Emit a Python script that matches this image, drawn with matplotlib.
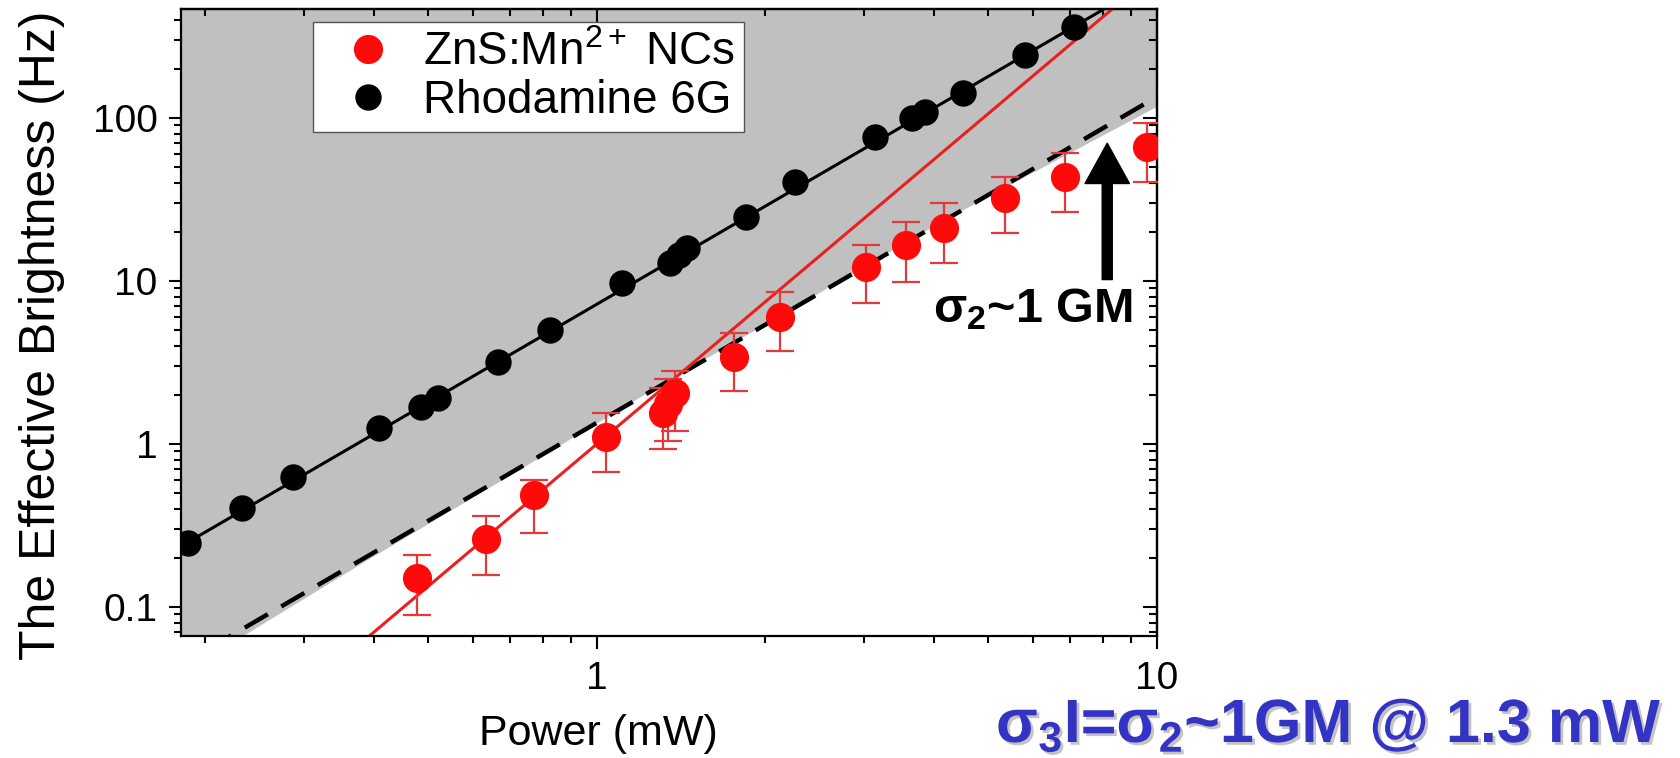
import numpy as np
import matplotlib
matplotlib.use("Agg")
import matplotlib.pyplot as plt
from matplotlib.lines import Line2D
from matplotlib.patches import FancyArrowPatch, ArrowStyle
import matplotlib.patheffects as pe

plt.rcParams['font.family'] = ['Liberation Sans', 'DejaVu Sans']
plt.rcParams['mathtext.fontset'] = 'custom'
plt.rcParams['mathtext.rm'] = 'Liberation Sans'
plt.rcParams['mathtext.it'] = 'Liberation Sans:italic'
plt.rcParams['mathtext.bf'] = 'Liberation Sans:bold'

# ZnS:Mn2+ nanocrystals (power in mW, brightness in Hz, error bar limits)
zns_power = [0.477, 0.634, 0.772, 1.04, 1.31, 1.34, 1.38, 1.76, 2.12, 3.02, 3.56, 4.17, 5.35, 6.85, 9.6]
zns_bright = [0.151, 0.261, 0.486, 1.10, 1.55, 1.75, 2.05, 3.42, 6.0, 12.2, 16.6, 21.1, 32.3, 43.5, 66.4]
zns_low = [0.089, 0.157, 0.286, 0.67, 0.93, 1.05, 1.20, 2.1, 3.7, 7.3, 9.9, 12.9, 19.7, 26.5, 40.5]
zns_high = [0.208, 0.364, 0.60, 1.55, 2.2, 2.5, 2.8, 4.8, 8.5, 16.6, 23.0, 30.0, 43.5, 61.0, 93.0]

# Rhodamine 6G reference
r6g_power = [0.186, 0.233, 0.287, 0.408, 0.485, 0.52, 0.666, 0.824, 1.11, 1.35, 1.40, 1.45,
             1.85, 2.26, 3.14, 3.65, 3.85, 4.50, 5.81, 7.11]
r6g_bright = [0.247, 0.405, 0.628, 1.25, 1.69, 1.91, 3.2, 5.0, 9.7, 12.8, 14.5, 16.0,
              24.7, 40.5, 76.5, 100, 109, 142, 243, 362]

# Power-law fits: brightness = prefactor * power ** order
r6g_fit = (7.2, 2.0)
zns_fit = (1.0, 2.9)
two_photon_fit = (1.35, 2.0)

# Lower edge of the shaded two-photon region
region_power = [0.15, 0.234, 0.39, 0.694, 1.32, 2.1, 3.0, 4.2, 6.0, 10.0]
region_bright = [0.027, 0.0664, 0.194, 0.628, 2.37, 5.95, 12.2, 23.8, 46.0, 117.0]

xlim = (0.181, 10)
ylim = (0.0664, 466)

W, H = 1681, 758
fig = plt.figure(figsize=(W / 100, H / 100), dpi=100)
L, R, T, B = 181, 1157, 9, 636
ax = fig.add_axes([L / W, 1 - B / H, (R - L) / W, (B - T) / H])
ax.set_xscale('log')
ax.set_yscale('log')

# shaded region
xs = np.logspace(np.log10(region_power[0]), np.log10(region_power[-1]), 400)
yb = 10 ** np.interp(np.log10(xs), np.log10(region_power), np.log10(region_bright))
ax.fill_between(xs, yb, 1e4, color='#c0c0c0', lw=0, zorder=0)

xf = np.logspace(np.log10(0.15), np.log10(12), 300)
ax.plot(xf, two_photon_fit[0] * xf ** two_photon_fit[1], color='black', lw=3.2,
        dashes=(6, 3.5), zorder=2)
ax.plot(xf, r6g_fit[0] * xf ** r6g_fit[1], color='black', lw=2.2, zorder=2)
ax.plot(xf, zns_fit[0] * xf ** zns_fit[1], color='#ea1f1f', lw=2.2, zorder=2)

zb = np.array(zns_bright)
yerr = np.vstack([zb - np.array(zns_low), np.array(zns_high) - zb])
ax.errorbar(zns_power, zns_bright, yerr=yerr, fmt='none', ecolor='#e23a3a',
            elinewidth=1.6, capsize=10, capthick=1.6, zorder=3)
ax.plot(zns_power, zns_bright, 'o', color='#ff0a0a', ms=21, mec='none', zorder=4)
ax.plot(r6g_power, r6g_bright, 'o', color='black', ms=19, mec='none', zorder=4)

ax.set_xlim(*xlim)
ax.set_ylim(*ylim)

ax.set_xticks([1, 10])
ax.set_xticklabels(['1', '10'])
ax.set_yticks([0.1, 1, 10, 100])
ax.set_yticklabels(['0.1', '1', '10', '100'])
ax.tick_params(which='major', direction='out', length=9, width=1.5, labelsize=28, pad=9)
ax.tick_params(which='minor', direction='out', length=5, width=1.5)
ax.tick_params(axis='y', which='major', pad=8)
for s in ax.spines.values():
    s.set_linewidth(1.6)

# inward ticks on the top and right frame
top = ax.secondary_xaxis('top')
top.tick_params(which='major', direction='in', length=9, width=1.5, labeltop=False)
top.tick_params(which='minor', direction='in', length=5, width=1.5)
top.set_xticks([1, 10])
top.set_xticklabels([])
right = ax.secondary_yaxis('right')
right.tick_params(which='major', direction='in', length=10, width=1.5, labelright=False)
right.tick_params(which='minor', direction='in', length=6, width=1.5)
right.set_yticks([0.1, 1, 10, 100])
right.set_yticklabels([])
for sec in (top, right):
    for s in sec.spines.values():
        s.set_linewidth(1.6)

handles = [Line2D([], [], ls='none', marker='o', color='#ff0a0a', ms=21, mec='none'),
           Line2D([], [], ls='none', marker='o', color='black', ms=19, mec='none')]
leg = ax.legend(handles, ['ZnS:Mn$^{2+}$ NCs', 'Rhodamine 6G'], loc='upper left',
                bbox_to_anchor=(0.135, 0.979), borderaxespad=0, fontsize=33,
                fancybox=False, framealpha=1, edgecolor='#555555',
                handletextpad=0.2, handlelength=2.0, labelspacing=0.08,
                borderpad=0.2)
leg.get_frame().set_linewidth(1.0)
leg.set_zorder(10)

# arrow and annotation for the two-photon cross-section
arrow = FancyArrowPatch((8.15, 10.2), (8.15, 70),
                        arrowstyle=ArrowStyle.Simple(head_length=1.0, head_width=1.1,
                                                     tail_width=0.25),
                        mutation_scale=29, color='black', shrinkA=0, shrinkB=0, zorder=5)
ax.add_patch(arrow)
ax.text(3.98, 5.6, r'σ$_\mathbf{2}$~1 GM', fontsize=35, fontweight='bold',
        ha='left', va='baseline', zorder=5)

fig.text(42 / W, 1 - 335 / H, 'The Effective Brightness (Hz)', rotation=90,
         ha='center', va='center', fontsize=36)
fig.text(598 / W, 1 - 745 / H, 'Power (mW)', ha='center', va='baseline', fontsize=31)

fig.text(996 / W, 1 - 742 / H, r'σ$_\mathbf{3}$I=σ$_\mathbf{2}$~1GM @ 1.3 mW',
         fontsize=44, fontweight='bold', color='#3434c4', ha='left', va='baseline',
         path_effects=[pe.withSimplePatchShadow(offset=(2, -2), shadow_rgbFace='#888888',
                                                alpha=0.5)])

fig.savefig('out.png', dpi=100)
